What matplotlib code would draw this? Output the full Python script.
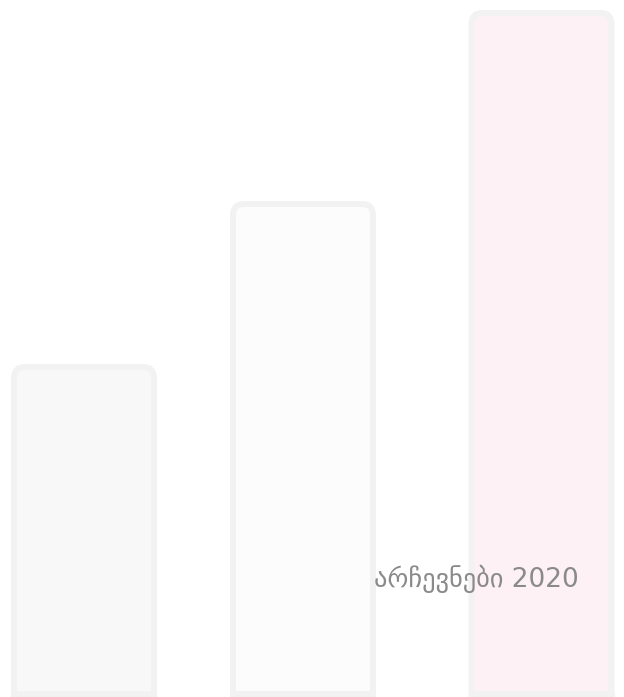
import matplotlib
matplotlib.use("Agg")
import matplotlib.pyplot as plt
from matplotlib.patches import FancyBboxPatch

# Data
categories = ["a", "b", "c"]
values = [333, 496, 687]
fills = ["#f8f8f8", "#fcfcfc", "#fdf1f5"]
label = "არჩევნები 2020"

W, H = 624, 697
fig = plt.figure(figsize=(W / 100, H / 100), dpi=100)
ax = fig.add_axes([0, 0, 1, 1])
ax.set_xlim(0, W)
ax.set_ylim(0, H)
ax.axis("off")

centers = [84, 303, 541.5]
bw = 140
lw_px = 6
bars = ax.bar(centers, values, width=bw, bottom=0, color="none")
for rect, fc in zip(bars, fills):
    x = rect.get_x()
    w = rect.get_width()
    h = rect.get_height()
    top = h - lw_px / 2
    p = FancyBboxPatch((x, -20), w, top + 20,
                       boxstyle="round,pad=0,rounding_size=11",
                       facecolor=fc, edgecolor="#f2f2f2",
                       linewidth=lw_px * 72 / 100, clip_on=True)
    ax.add_patch(p)
    rect.set_visible(False)
# bottom border line
for rect in bars:
    x = rect.get_x()
    w = rect.get_width()
    ax.plot([x - lw_px / 2, x + w + lw_px / 2], [lw_px / 2, lw_px / 2],
            color="#f2f2f2", linewidth=lw_px * 72 / 100, solid_capstyle="butt")

ax.text(476, 118, label, fontsize=19, color="#8a8a8a",
        family=["DejaVu Sans"], ha="center", va="center")

fig.savefig("out.png", dpi=100)
